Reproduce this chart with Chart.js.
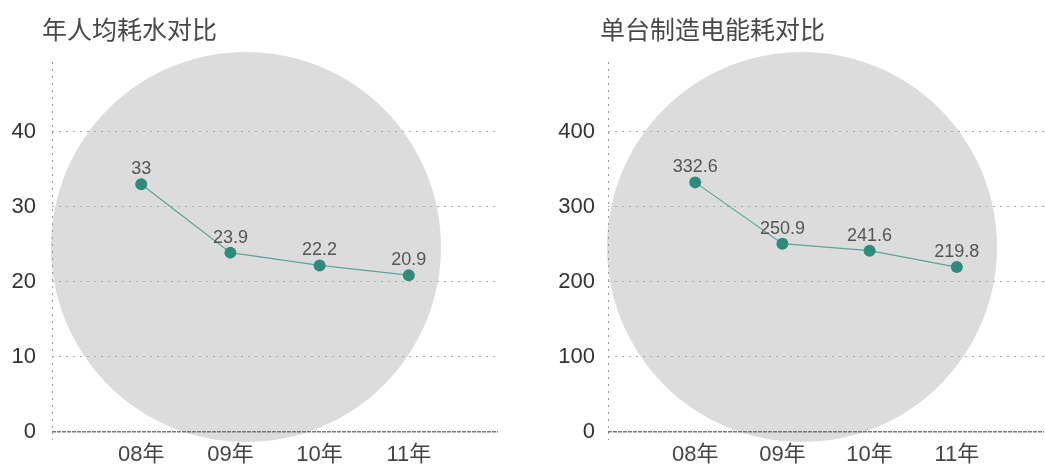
<!DOCTYPE html>
<html>
<head>
<meta charset="utf-8">
<script src="https://cdn.jsdelivr.net/npm/chart.js@4.4.1/dist/chart.umd.min.js"></script>
<style>
  body { margin: 0; background: #fff; width: 1045px; height: 468px; overflow: hidden; position: relative; }
  .box { position: absolute; top: 0; height: 468px; }
  .title { position: absolute; top: 13px; margin: 0; font: normal 25px/30px 'Noto Sans CJK SC', sans-serif; color: #484848; white-space: nowrap; }
</style>
</head>
<body>
<div class="box" style="left:0;width:520px"><canvas id="water"></canvas></div>
<div class="box" style="left:520px;width:530px"><canvas id="power"></canvas></div>
<h2 class="title" style="left:42px">年人均耗水对比</h2>
<h2 class="title" style="left:600px">单台制造电能耗对比</h2>
<script>
const years = ['08年', '09年', '10年', '11年'];
const waterPerPerson = [33, 23.9, 22.2, 20.9];
const energyPerUnit = [332.6, 250.9, 241.6, 219.8];
const waterTicks = [0, 10, 20, 30, 40];
const energyTicks = [0, 100, 200, 300, 400];

const FONT = "'Liberation Sans', 'Noto Sans CJK SC', sans-serif";

// grey disc behind each plot
const discPlugin = {
  id: 'disc',
  beforeDraw(chart, args, opts) {
    const a = chart.chartArea;
    const ctx = chart.ctx;
    ctx.save();
    ctx.fillStyle = '#dcdcdc';
    ctx.beginPath();
    ctx.arc(a.left + opts.dx, a.top + opts.dy, opts.r, 0, Math.PI * 2);
    ctx.fill();
    ctx.restore();
  }
};

// value text above each point
const valueLabels = {
  id: 'valueLabels',
  afterDatasetsDraw(chart) {
    const ctx = chart.ctx;
    const data = chart.data.datasets[0].data;
    ctx.save();
    ctx.font = '18px ' + FONT;
    ctx.fillStyle = '#555';
    ctx.textAlign = 'center';
    ctx.textBaseline = 'alphabetic';
    chart.getDatasetMeta(0).data.forEach((pt, i) => {
      if (data[i] == null) return;
      ctx.fillText(String(data[i]), pt.x, pt.y - 10);
    });
    ctx.restore();
  }
};

function makeChart(id, values, ticks, yWidth, tickPad, padRight, disc) {
  const step = ticks[1] - ticks[0];
  const top = ticks[ticks.length - 1] + step * 0.93;
  new Chart(document.getElementById(id), {
    type: 'line',
    data: {
      labels: ['', ...years, ''],
      datasets: [{
        data: [null, ...values, null],
        borderColor: '#5ca597',
        borderWidth: 1.2,
        pointRadius: 6,
        pointBackgroundColor: '#2f8c7c',
        pointBorderWidth: 0,
        tension: 0
      }]
    },
    options: {
      responsive: true,
      maintainAspectRatio: false,
      animation: false,
      layout: { padding: { top: 62, right: padRight, left: 0, bottom: 0 } },
      plugins: { legend: { display: false }, tooltip: { enabled: false }, disc: disc },
      scales: {
        x: {
          offset: false,
          border: { display: false, dash: [2, 5] },
          grid: {
            color: c => c.index === 0 ? '#999' : 'rgba(0,0,0,0)',
            tickColor: c => c.index === 0 ? '#999' : 'rgba(0,0,0,0)',
            tickLength: 8,
            tickBorderDash: [2, 5]
          },
          ticks: { color: '#444', font: { size: 22, family: FONT }, padding: 2, maxRotation: 0, autoSkip: false },
          afterFit: s => { s.height = 36; }
        },
        y: {
          min: 0,
          max: top,
          border: {
            display: false,
            dash: c => c.tick && c.tick.value === 0 ? [4, 1] : [2, 5]
          },
          grid: {
            drawTicks: false,
            color: c => c.tick && c.tick.value === 0 ? '#777' : '#aaa',
            lineWidth: c => c.tick && c.tick.value === 0 ? 1.5 : 1
          },
          ticks: {
            color: '#333',
            padding: tickPad,
            font: { size: 22, family: FONT }
          },
          afterBuildTicks: s => { s.ticks = ticks.map(v => ({ value: v })); },
          afterFit: s => { s.width = yWidth; }
        }
      }
    },
    plugins: [discPlugin, valueLabels]
  });
}

makeChart('water', waterPerPerson, waterTicks, 52, 16, 22, { dx: 194, dy: 185, r: 195 });
makeChart('power', energyPerUnit, energyTicks, 88, 13, 0, { dx: 194, dy: 185, r: 195 });
</script>
</body>
</html>
